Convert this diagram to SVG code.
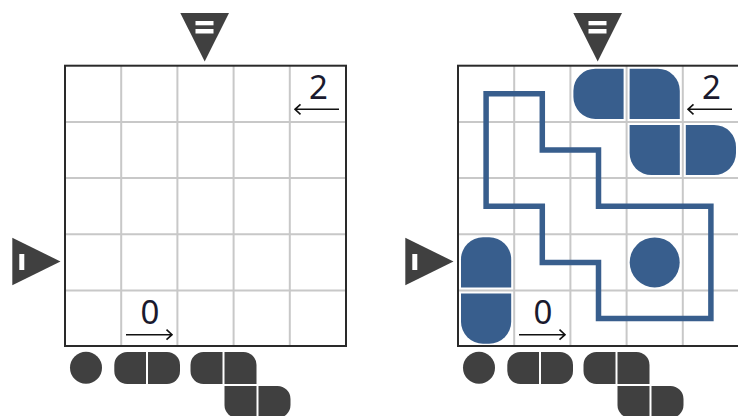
<svg xmlns="http://www.w3.org/2000/svg" width="738" height="416" viewBox="0 0 738 416">
<style>
.bg{fill:#ffffff}
.gl{stroke:#c8c8c8;stroke-width:2;fill:none}
.frame{fill:none;stroke:#2a2a2a;stroke-width:2}
.dark{fill:#404040}
.blue{fill:#385e8d}
.loop{fill:none;stroke:#385e8d;stroke-width:5.5;stroke-linejoin:miter}
.num{font-family:"Noto Sans","Open Sans","DejaVu Sans",sans-serif;font-size:33px;fill:#1a1a2e;text-anchor:middle}
.arr{fill:none;stroke:#111;stroke-width:1.6}
.wb{fill:#ffffff}
</style>
<defs>
<g id="gridlines">
<path class="gl" d="M121.2,65.7V346M177.4,65.7V346M233.6,65.7V346M289.8,65.7V346M65,121.9H346M65,178.1H346M65,234.3H346M65,290.5H346"/>
<rect class="frame" x="65" y="65.7" width="281" height="280.3"/>
</g>
<g id="topmark">
<polygon class="dark" points="180.3,13 229,13 204.7,61.5"/>
<rect class="wb" x="195.5" y="21" width="18" height="4.3"/>
<rect class="wb" x="195.5" y="29" width="18" height="4.5"/>
</g>
<g id="leftmark">
<polygon class="dark" points="12.3,237.7 12.3,285.3 60.5,261.5"/>
<rect class="wb" x="19.3" y="254" width="5" height="16"/>
</g>
<g id="clues">
<text class="num" x="318.5" y="99">2</text>
<path class="arr" d="M339,109.3H295.5M300.5,104.3L295,109.3L300.5,114.3"/>
<text class="num" x="150" y="324">0</text>
<path class="arr" d="M126,334.7H171.5M166.5,329.7L172,334.7L166.5,339.7"/>
</g>
<g id="pieces">
<circle class="dark" cx="86" cy="367.8" r="16"/>
<path class="dark" d="M127.3,352H146V384H127.3A13 13 0 0 1 114.3,371V365A13 13 0 0 1 127.3,352Z"/>
<path class="dark" d="M148,352H167A13 13 0 0 1 180,365V371A13 13 0 0 1 167,384H148Z"/>
<path class="dark" d="M203.5,352H222.5V384H203.5A13 13 0 0 1 190.5,371V365A13 13 0 0 1 203.5,352Z"/>
<path class="dark" d="M224.5,352H243.5A13 13 0 0 1 256.5,365V384H224.5Z"/>
<path class="dark" d="M224.5,386H256.5V418H237.5A13 13 0 0 1 224.5,405Z"/>
<path class="dark" d="M258.5,386H277.5A13 13 0 0 1 290.5,399V405A13 13 0 0 1 277.5,418H258.5Z"/>
</g>
</defs>
<rect class="bg" x="0" y="0" width="738" height="416"/>
<g id="puzzle">
<use href="#gridlines"/>
<use href="#topmark"/>
<use href="#leftmark"/>
<use href="#clues"/>
<use href="#pieces"/>
</g>
<g id="solution">
<use href="#gridlines" transform="translate(393,0)"/>
<g id="solution-shapes">
<path class="blue" d="M595.4,68.7H623.6V118.9H595.4A22 22 0 0 1 573.4,96.9V90.7A22 22 0 0 1 595.4,68.7Z"/>
<path class="blue" d="M629.6,68.7H657.8A22 22 0 0 1 679.8,90.7V118.9H629.6Z"/>
<path class="blue" d="M629.6,124.9H679.8V175.1H651.6A22 22 0 0 1 629.6,153.1Z"/>
<path class="blue" d="M685.8,124.9H714A22 22 0 0 1 736,146.9V153.1A22 22 0 0 1 714,175.1H685.8Z"/>
<path class="blue" d="M461,259.3A22 22 0 0 1 483,237.3H489.2A22 22 0 0 1 511.2,259.3V287.5H461Z"/>
<path class="blue" d="M461,293.5H511.2V321.7A22 22 0 0 1 489.2,343.7H483A22 22 0 0 1 461,321.7Z"/>
<circle class="blue" cx="654.7" cy="262.4" r="25"/>
</g>
<g id="connectors">
<polygon class="loop" points="486.1,93.8 542.3,93.8 542.3,150 598.5,150 598.5,206.2 710.9,206.2 710.9,318.6 598.5,318.6 598.5,262.4 542.3,262.4 542.3,206.2 486.1,206.2"/>
</g>
<use href="#topmark" transform="translate(393,0)"/>
<use href="#leftmark" transform="translate(393,0)"/>
<use href="#clues" transform="translate(393,0)"/>
<use href="#pieces" transform="translate(393,0)"/>
</g>
</svg>
